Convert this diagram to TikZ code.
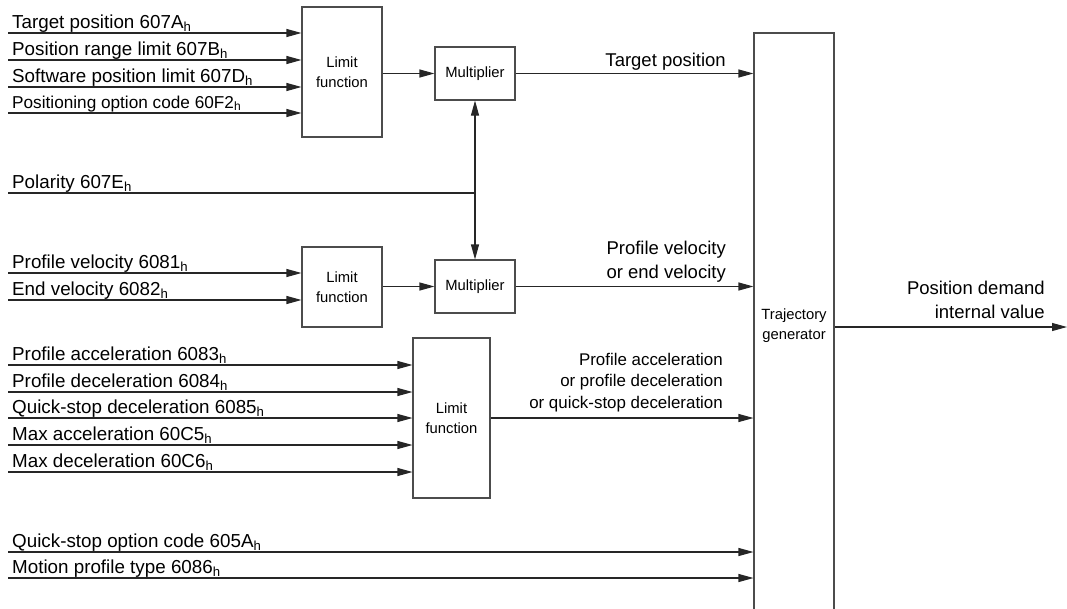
\documentclass[tikz,border=0pt]{standalone}
\usepackage{fontspec}
\setmainfont{Liberation Sans}
\usetikzlibrary{arrows.meta,calc}
\newcommand{\fsz}[1]{\fontsize{#1}{20}\selectfont}
\begin{document}
\begin{tikzpicture}[x=1pt,y=-1pt,
  ln/.style={line width=1.1pt,draw=black!85},
  arr/.style={ln,-{Triangle[length=15pt,width=8pt]}},
  dblarr/.style={ln,{Triangle[length=15pt,width=8pt]}-{Triangle[length=15pt,width=8pt]}},
  blk/.style={draw=black!70,line width=1.1pt,fill=white,inner sep=0pt,align=center,
    font=\fontsize{14.8}{20}\selectfont},
  lbl/.style={anchor=base west,inner sep=0pt,font=\fsz{18.8}},
  olbl/.style={anchor=base east,inner sep=0pt,align=right,font=\fontsize{18.5}{24}\selectfont},
  albl/.style={anchor=base east,inner sep=0pt,align=right,font=\fontsize{16.9}{21.5}\selectfont}]
\useasboundingbox (0,0) rectangle (1067,608);

% blocks
\node[blk,minimum width=80pt,minimum height=130pt] (lf1) at (342,72) {Limit\\function};
\node[blk,minimum width=80pt,minimum height=53pt] (mul1) at (475,73.5) {Multiplier};
\node[blk,minimum width=80pt,minimum height=53pt] (mul2) at (475,286.5) {Multiplier};
\node[blk,minimum width=80pt,minimum height=80pt] (lf2) at (342,287) {Limit\\function};
\node[blk,minimum width=77pt,minimum height=160pt] (lf3) at (451.5,418) {Limit\\function};
\node[blk,minimum width=80pt,minimum height=586pt] (traj) at (794,326) {Trajectory\\generator};

% input coordinates
\coordinate (i1) at (8,33);
\coordinate (i2) at (8,60);
\coordinate (i3) at (8,87);
\coordinate (i4) at (8,113);
\coordinate (ip) at (8,193);
\coordinate (i5) at (8,273);
\coordinate (i6) at (8,300);
\coordinate (i7) at (8,365);
\coordinate (i8) at (8,392);
\coordinate (i9) at (8,418);
\coordinate (i10) at (8,445);
\coordinate (i11) at (8,472);
\coordinate (i12) at (8,552);
\coordinate (i13) at (8,578);
\coordinate (out) at (1067,327);

% input labels
\node[lbl] (t1) at (12,28) {Target position 607A\textsubscript{h}};
\node[lbl] (t2) at (12,55) {Position range limit 607B\textsubscript{h}};
\node[lbl] (t3) at (12,82) {Software position limit 607D\textsubscript{h}};
\node[lbl,font=\fsz{17.2}] (t4) at (12,108) {Positioning option code 60F2\textsubscript{h}};
\node[lbl] (tp) at (12,188) {Polarity 607E\textsubscript{h}};
\node[lbl] (t5) at (12,268) {Profile velocity 6081\textsubscript{h}};
\node[lbl] (t6) at (12,295) {End velocity 6082\textsubscript{h}};
\node[lbl] (t7) at (12,360) {Profile acceleration 6083\textsubscript{h}};
\node[lbl] (t8) at (12,387) {Profile deceleration 6084\textsubscript{h}};
\node[lbl] (t9) at (12,413) {Quick-stop deceleration 6085\textsubscript{h}};
\node[lbl] (t10) at (12,440) {Max acceleration 60C5\textsubscript{h}};
\node[lbl] (t11) at (12,467) {Max deceleration 60C6\textsubscript{h}};
\node[lbl] (t12) at (12,547) {Quick-stop option code 605A\textsubscript{h}};
\node[lbl] (t13) at (12,573) {Motion profile type 6086\textsubscript{h}};

% input arrows
\foreach \i in {i1,i2,i3,i4} \draw[arr] (\i) -- (\i -| lf1.west);
\foreach \i in {i5,i6} \draw[arr] (\i) -- (\i -| lf2.west);
\foreach \i in {i7,i8,i9,i10,i11} \draw[arr] (\i) -- (\i -| lf3.west);
\foreach \i in {i12,i13} \draw[arr] (\i) -- (\i -| traj.west);

% polarity
\draw[ln] (ip) -- (ip -| mul1.south);
\draw[dblarr] (mul1.south) -- (mul2.north);

% internal connections
\draw[arr] (lf1.east |- mul1.west) -- (mul1.west);
\draw[arr] (lf2.east |- mul2.west) -- (mul2.west);
\draw[arr] (mul1.east) -- (mul1.east -| traj.west);
\draw[arr] (mul2.east) -- (mul2.east -| traj.west);
\draw[arr] (lf3.east) -- (lf3.east -| traj.west);
\draw[arr] (traj.east |- out) -- (out);

% output labels
\node[olbl] (o1) at (726,66) {Target position};
\node[olbl] (o2) at (726,278) {Profile velocity\\or end velocity};
\node[albl] (o3) at (723,408) {Profile acceleration\\or profile deceleration\\or quick-stop deceleration};
\node[olbl] (o4) at (1045,318) {Position demand\\internal value};
\end{tikzpicture}
\end{document}
